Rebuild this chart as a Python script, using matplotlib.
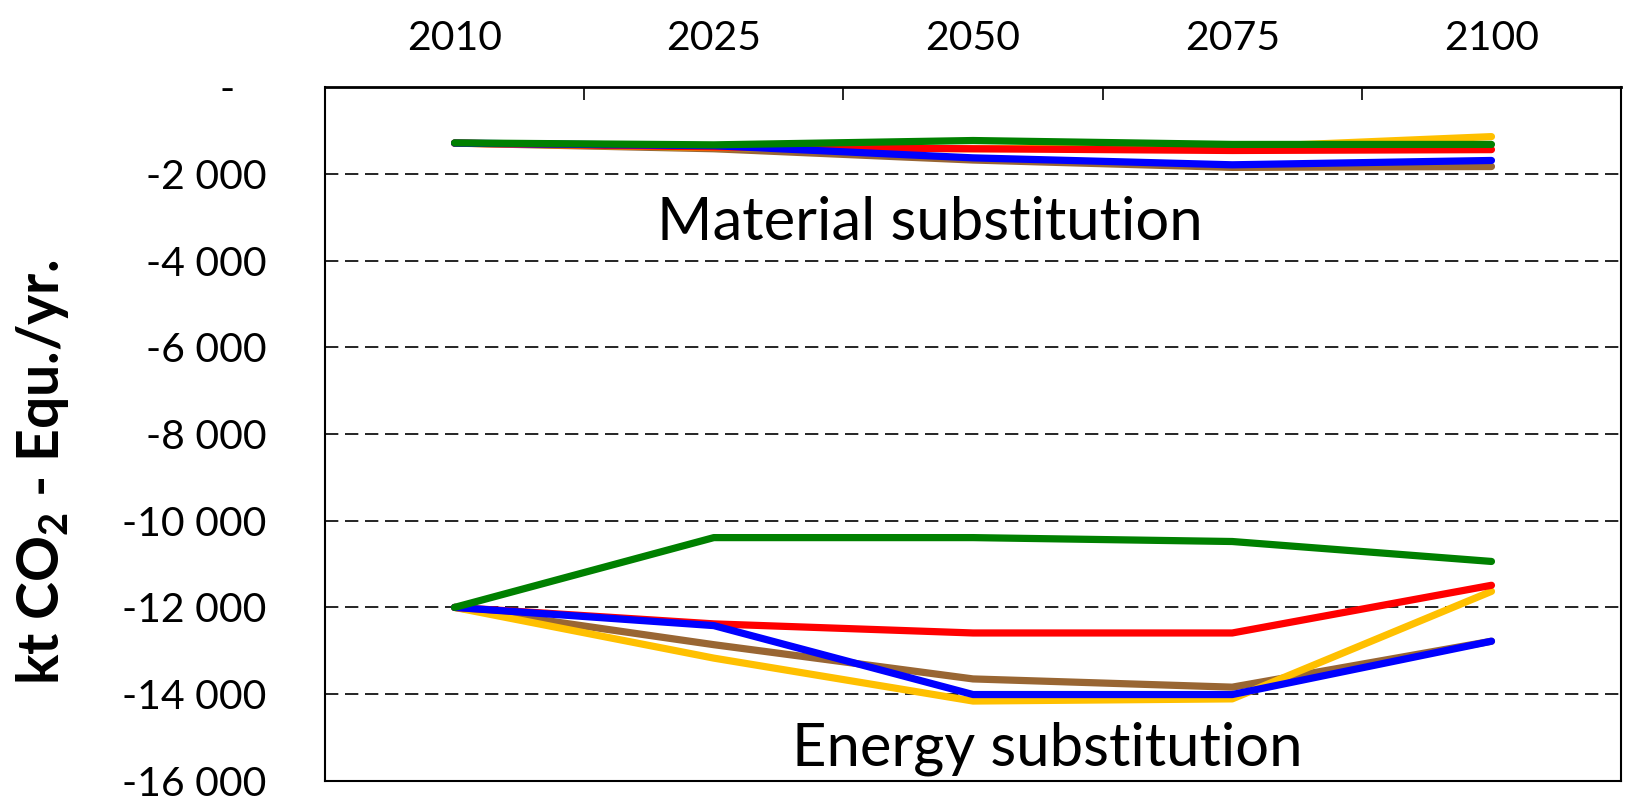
import numpy as np
import matplotlib
matplotlib.use("Agg")
import matplotlib.pyplot as plt
from matplotlib.ticker import FixedLocator

plt.rcParams['font.family'] = ['Lato', 'DejaVu Sans']
plt.rcParams['mathtext.fontset'] = 'custom'
plt.rcParams['mathtext.rm'] = 'Lato'
plt.rcParams['mathtext.bf'] = 'Lato:bold'

""" DATA """
years = ["2010", "2025", "2050", "2075", "2100"]

# material substitution (kt CO2-eq / yr)
mat_brown = [-1290, -1420, -1680, -1850, -1830]
mat_yellow = [-1290, -1390, -1420, -1390, -1140]
mat_red = [-1290, -1380, -1420, -1460, -1440]
mat_blue = [-1290, -1350, -1630, -1790, -1690]
mat_green = [-1285, -1330, -1230, -1320, -1320]

# energy substitution (kt CO2-eq / yr)
en_brown = [-12000, -12860, -13650, -13840, -12780]
en_yellow = [-12000, -13170, -14160, -14110, -11630]
en_red = [-12000, -12380, -12590, -12590, -11490]
en_blue = [-12000, -12420, -14010, -14010, -12780]
en_green = [-12000, -10390, -10390, -10480, -10940]

yticks = [0, -2000, -4000, -6000, -8000, -10000, -12000, -14000, -16000]

colors = {"brown": "#996633", "yellow": "#FFC000", "red": "#FF0000",
          "blue": "#0000FF", "green": "#008000"}


def fmt(v):
    if v == 0:
        return "-   "
    return f"{v:,.0f}".replace(",", " ")


""" MAKING A PICTURE """
fig = plt.figure(figsize=(16.33, 8), dpi=100)
ax = fig.add_axes([0.199, 0.024, 0.7937, 0.867])

x = np.arange(len(years))
series = [("brown", mat_brown, en_brown), ("yellow", mat_yellow, en_yellow),
          ("red", mat_red, en_red), ("blue", mat_blue, en_blue),
          ("green", mat_green, en_green)]
for name, mat, en in series:
    ax.plot(x, mat, color=colors[name], lw=5.2, solid_capstyle='round',
            solid_joinstyle='round', zorder=3)
    ax.plot(x, en, color=colors[name], lw=5.2, solid_capstyle='round',
            solid_joinstyle='round', zorder=3)

ax.set_xlim(-0.5, len(years) - 0.5)
ax.set_ylim(-16000, 0)

# gridlines
for v in yticks[1:-1]:
    ax.axhline(v, color='black', lw=1.2, ls=(0, (8, 4)), zorder=1)

ax.set_yticks(yticks)
ax.set_yticklabels([fmt(v) for v in yticks], fontsize=29.5)
ax.tick_params(axis='y', length=0, pad=42)

ax.xaxis.tick_top()
ax.set_xticks(x)
ax.set_xticklabels(years, fontsize=29.5)
ax.xaxis.set_minor_locator(FixedLocator(x[:-1] + 0.5))
ax.tick_params(axis='x', which='major', length=0, pad=22)
ax.tick_params(axis='x', which='minor', direction='in', length=9.5, width=1.2,
               top=True, bottom=False)

for s in ax.spines.values():
    s.set_linewidth(1.5)
ax.spines['top'].set_linewidth(2)

ax.text(1.835, -3530, "Material substitution", fontsize=43, ha='center', va='baseline')
ax.text(2.285, -15640, "Energy substitution", fontsize=43, ha='center', va='baseline')

fig.text(0.026, 0.41, r"kt CO$_\mathbf{2}$ - Equ./yr.", rotation=90, fontsize=41,
         fontweight='bold', ha='center', va='center')

fig.savefig("out.png", dpi=100)
